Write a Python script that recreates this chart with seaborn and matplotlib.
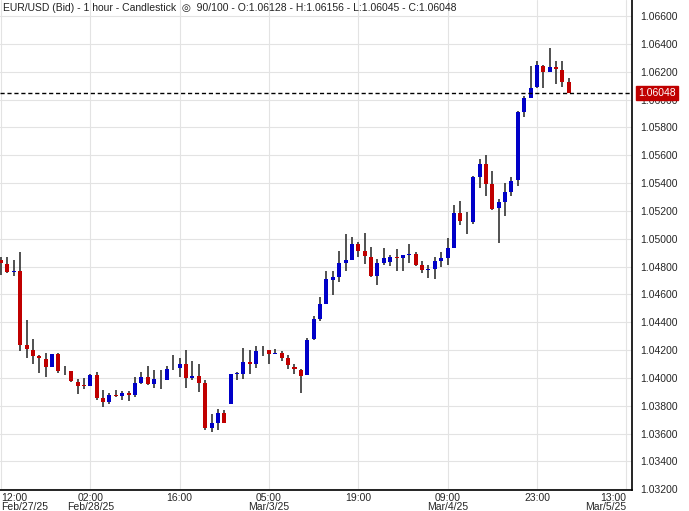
import matplotlib
matplotlib.use("Agg")
import matplotlib.pyplot as plt
import numpy as np
import seaborn as sns

# hourly EUR/USD candles, oldest first
opens = [1.04845, 1.04816, 1.04762, 1.04766, 1.04238, 1.04202, 1.04155, 1.04138, 1.04076, 1.04174,
         1.04048, 1.04053, 1.03974, 1.03952, 1.03940, 1.04024, 1.03853, 1.03826, 1.03881, 1.03869,
         1.03890, 1.03876, 1.03962, 1.04010, 1.03955, 1.03995, 1.03986, 1.04063, 1.04069, 1.04102,
         1.04002, 1.04017, 1.03967, 1.03640, 1.03676, 1.03750, 1.03812, 1.04029, 1.04031, 1.04117,
         1.04097, 1.04198, 1.04200, 1.04169, 1.04181, 1.04147, 1.04081, 1.04060, 1.04019, 1.04281,
         1.04424, 1.04531, 1.04702, 1.04724, 1.04824, 1.04845, 1.04966, 1.04909, 1.04866, 1.04731,
         1.04824, 1.04831, 1.04866, 1.04859, 1.04886, 1.04888, 1.04809, 1.04777, 1.04781, 1.04838,
         1.04859, 1.04931, 1.05188, 1.05123, 1.05118, 1.05447, 1.05538, 1.05395, 1.05218, 1.05268,
         1.05338, 1.05425, 1.05911, 1.06009, 1.06094, 1.06244, 1.06202, 1.06237, 1.06216, 1.06128]
highs = [1.04866, 1.04871, 1.04845, 1.04902, 1.04417, 1.04280, 1.04162, 1.04181, 1.04174, 1.04183,
         1.04088, 1.04053, 1.03993, 1.04002, 1.04031, 1.04045, 1.03917, 1.03895, 1.03910, 1.03905,
         1.03905, 1.04010, 1.04045, 1.04083, 1.04060, 1.04060, 1.04083, 1.04167, 1.04145, 1.04202,
         1.04119, 1.04102, 1.03983, 1.03738, 1.03774, 1.03767, 1.03812, 1.04045, 1.04217, 1.04202,
         1.04231, 1.04231, 1.04200, 1.04207, 1.04197, 1.04167, 1.04102, 1.04067, 1.04288, 1.04443,
         1.04581, 1.04766, 1.04766, 1.04909, 1.05038, 1.05016, 1.04974, 1.05045, 1.04938, 1.04852,
         1.04931, 1.04883, 1.04924, 1.04881, 1.04966, 1.04902, 1.04838, 1.04809, 1.04866, 1.04902,
         1.05009, 1.05245, 1.05273, 1.05195, 1.05452, 1.05573, 1.05602, 1.05488, 1.05288, 1.05402,
         1.05445, 1.05916, 1.06023, 1.06244, 1.06280, 1.06251, 1.06373, 1.06280, 1.06280, 1.06156]
lows = [1.04738, 1.04757, 1.04733, 1.04197, 1.04140, 1.04097, 1.04033, 1.04005, 1.04076, 1.04033,
        1.04019, 1.03969, 1.03883, 1.03919, 1.03940, 1.03845, 1.03790, 1.03812, 1.03860, 1.03845,
        1.03833, 1.03862, 1.03955, 1.03948, 1.03926, 1.03924, 1.03983, 1.04055, 1.04010, 1.03931,
        1.03983, 1.03898, 1.03626, 1.03610, 1.03629, 1.03676, 1.03812, 1.03983, 1.03995, 1.04026,
        1.04074, 1.04155, 1.04102, 1.04169, 1.04122, 1.04067, 1.04026, 1.03890, 1.04019, 1.04274,
        1.04409, 1.04531, 1.04597, 1.04690, 1.04766, 1.04845, 1.04866, 1.04816, 1.04724, 1.04666,
        1.04811, 1.04804, 1.04766, 1.04766, 1.04826, 1.04802, 1.04752, 1.04716, 1.04709, 1.04795,
        1.04809, 1.04931, 1.05097, 1.05033, 1.05104, 1.05368, 1.05311, 1.05209, 1.04970, 1.05161,
        1.05311, 1.05383, 1.05875, 1.06009, 1.06087, 1.06082, 1.06202, 1.06109, 1.06090, 1.06045]
closes = [1.04824, 1.04761, 1.04766, 1.04240, 1.04205, 1.04155, 1.04140, 1.04076, 1.04174, 1.04047,
          1.04052, 1.03976, 1.03940, 1.03940, 1.04024, 1.03853, 1.03826, 1.03881, 1.03867, 1.03890,
          1.03879, 1.03962, 1.04010, 1.03955, 1.03995, 1.03991, 1.04065, 1.04067, 1.04102, 1.04002,
          1.04017, 1.03967, 1.03640, 1.03674, 1.03750, 1.03676, 1.04031, 1.04033, 1.04117, 1.04097,
          1.04195, 1.04202, 1.04169, 1.04181, 1.04147, 1.04090, 1.04062, 1.04012, 1.04274, 1.04424,
          1.04531, 1.04709, 1.04724, 1.04824, 1.04845, 1.04966, 1.04911, 1.04876, 1.04731, 1.04824,
          1.04859, 1.04866, 1.04862, 1.04881, 1.04890, 1.04809, 1.04774, 1.04781, 1.04838, 1.04859,
          1.04931, 1.05188, 1.05126, 1.05119, 1.05445, 1.05538, 1.05397, 1.05214, 1.05266, 1.05338,
          1.05416, 1.05909, 1.06009, 1.06087, 1.06251, 1.06202, 1.06237, 1.06218, 1.06130, 1.06048]

tick_pos = [0, 14, 28, 42, 56, 70, 84, 98]
tick_labels = ["12:00\nFeb/27/25", "02:00\nFeb/28/25", "16:00", "05:00\nMar/3/25",
               "19:00", "09:00\nMar/4/25", "23:00", "13:00\nMar/5/25"]
y_ticks = [round(1.032 + 0.002 * k, 3) for k in range(18)]

UP = "#0000c8"
DOWN = "#c00000"

sns.set_style("whitegrid", {"grid.color": "#e3e3e3", "axes.edgecolor": "black"})
plt.rcParams["font.family"] = ["Liberation Sans", "DejaVu Sans"]

fig = plt.figure(figsize=(6.89, 5.11), dpi=100)
ax = fig.add_axes([0.0, 21 / 511, 632 / 689, 490 / 511])

o = np.array(opens)
c = np.array(closes)
x = np.arange(len(o))
up = c >= o
colors = np.where(up, UP, DOWN)

ax.vlines(x, lows, highs, color="#333333", linewidth=1.2, zorder=2)
bottom = np.minimum(o, c)
height = np.maximum(np.abs(c - o), 0.00003)
ax.bar(x, height, bottom=bottom, width=0.63, color=colors, linewidth=0, zorder=3)

last = closes[-1]
ax.axhline(last, color="black", linestyle=(0, (3, 2)), linewidth=1, zorder=4)

ax.set_xlim(-0.16, 98.9)
ax.set_ylim(1.03195, 1.06716)
ax.set_xticks(tick_pos)
ax.set_xticklabels(tick_labels, fontsize=7.5, linespacing=0.95)
xl = ax.get_xticklabels()
xl[0].set_ha("left")
xl[-1].set_ha("right")
ax.set_yticks(y_ticks)
ax.set_yticklabels([f"{v:.5f}" for v in y_ticks], fontsize=7.5)
ax.yaxis.tick_right()
ax.tick_params(axis="both", length=0, pad=6)
ax.tick_params(axis="x", pad=2)
for side in ["top", "left"]:
    ax.spines[side].set_visible(False)
ax.spines["right"].set_linewidth(1.2)
ax.spines["bottom"].set_linewidth(1.2)

price_tag = ax.text(1.01, last, f"{last:.5f}", transform=ax.get_yaxis_transform(), fontsize=7.5,
                    va="center", ha="left", color="white", zorder=10, clip_on=False,
                    bbox=dict(boxstyle="square,pad=0.2", fc="#c00000", ec="#c00000", lw=1))

ax.text(0.004, 0.993,
        "EUR/USD (Bid) - 1 hour - Candlestick  \u25ce  90/100 - O:1.06128 - H:1.06156 - L:1.06045 - C:1.06048",
        transform=ax.transAxes, fontsize=7.5, va="top", ha="left", color="#222222")

fig.savefig("out.png", dpi=100)
